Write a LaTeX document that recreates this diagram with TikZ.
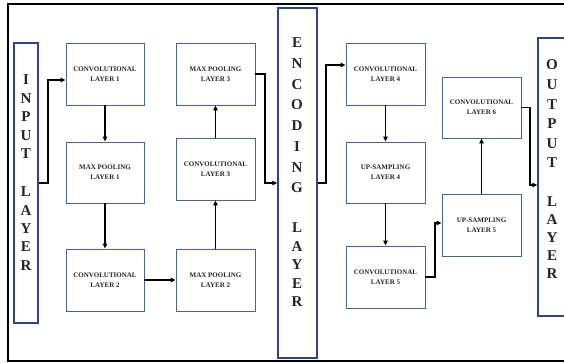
\documentclass[tikz,border=0pt]{standalone}
\usepackage{fontspec}
\setmainfont{Liberation Serif}
\usetikzlibrary{arrows.meta}
\definecolor{boxblue}{RGB}{72,98,155}
\definecolor{layblue}{RGB}{45,70,130}
\begin{document}
\begin{tikzpicture}[x=1pt,y=-1pt,
  blk/.style={draw=boxblue, line width=0.9pt, minimum width=78pt, minimum height=62pt,
    inner sep=0pt, font=\fontsize{7}{10}\selectfont\bfseries, align=center, text=black!85},
  lay/.style={draw=layblue, line width=1.5pt, inner sep=0pt},
  vtxt/.style={align=center, inner sep=0pt, text=black!85},
  arr/.style={-{Triangle[length=5pt,width=4.5pt]}, line width=1.1pt}]
\useasboundingbox (0,0) rectangle (564,363);
\clip (0,0) rectangle (564,363);
\fill[white] (0,0) rectangle (564,363);
% outer frame
\draw[line width=2pt] (8,4) rectangle (600,361);
% big layers
\node[lay, minimum width=24pt, minimum height=280pt] (inp) at (26,183) {};
\node[lay, minimum width=39pt, minimum height=350pt] (enc) at (297.5,183) {};
\node[lay, minimum width=30pt, minimum height=278pt] (out) at (553,177) {};
% vertical words
\node[vtxt, font=\fontsize{15}{18.5}\selectfont\bfseries] (inpA) at (26,117) {I\\N\\P\\U\\T};
\node[vtxt, font=\fontsize{15}{18.3}\selectfont\bfseries] (inpB) at (26,228.5) {L\\A\\Y\\E\\R};
\node[vtxt, font=\fontsize{15}{20.7}\selectfont\bfseries] (encA) at (297,115.5) {E\\N\\C\\O\\D\\I\\N\\G};
\node[vtxt, font=\fontsize{15}{18.5}\selectfont\bfseries] (encB) at (297,265) {L\\A\\Y\\E\\R};
\node[vtxt, font=\fontsize{15}{19.6}\selectfont\bfseries] (outA) at (552,114) {O\\U\\T\\P\\U\\T};
\node[vtxt, font=\fontsize{15}{18}\selectfont\bfseries] (outB) at (552,238) {L\\A\\Y\\E\\R};
% blocks
\node[blk] (c1) at (105,74) {CONVOLUTIONAL\\LAYER 1};
\node[blk, minimum height=61pt] (mp1) at (105,172.5) {MAX POOLING\\LAYER 1};
\node[blk] (c2) at (105,280) {CONVOLUTIONAL\\LAYER 2};
\node[blk, minimum width=79pt] (mp3) at (215.5,74) {MAX POOLING\\LAYER 3};
\node[blk, minimum width=79pt] (c3) at (215.5,169) {CONVOLUTIONAL\\LAYER 3};
\node[blk, minimum width=79pt] (mp2) at (215.5,280) {MAX POOLING\\LAYER 2};
\node[blk, minimum width=79pt] (c4) at (385.5,74) {CONVOLUTIONAL\\LAYER 4};
\node[blk, minimum width=79pt, minimum height=61pt] (u4) at (385.5,172.5) {UP-SAMPLING\\LAYER 4};
\node[blk, minimum width=79pt] (c5) at (385.5,277) {CONVOLUTIONAL\\LAYER 5};
\node[blk, minimum width=79pt, minimum height=61pt] (c6) at (481.5,107.5) {CONVOLUTIONAL\\LAYER 6};
\node[blk, minimum width=79pt] (u5) at (481.5,225) {UP-SAMPLING\\LAYER 5};
% connectors
\draw[arr] (inp.east) -- (48,183) -- (48,80) -- (c1.west |- 48,80);
\draw[arr] (c1) -- (mp1);
\draw[arr] (mp1) -- (c2);
\draw[arr] (c2) -- (mp2);
\draw[arr] (mp2) -- (c3);
\draw[arr] (c3) -- (mp3);
\draw[arr] (mp3.east) -- (265,74) -- (265,183) -- (enc.west);
\draw[arr] (enc.east) -- (326,183) -- (326,65) -- (c4.west |- 326,65);
\draw[arr] (c4) -- (u4);
\draw[arr] (u4) -- (c5);
\draw[arr] (c5.east) -- (435,277) -- (435,223) -- (u5.west |- 435,223);
\draw[arr] (u5) -- (c6);
\draw[arr] (c6.east) -- (530,107.5) -- (530,185) -- (out.west |- 530,185);
\end{tikzpicture}
\end{document}
